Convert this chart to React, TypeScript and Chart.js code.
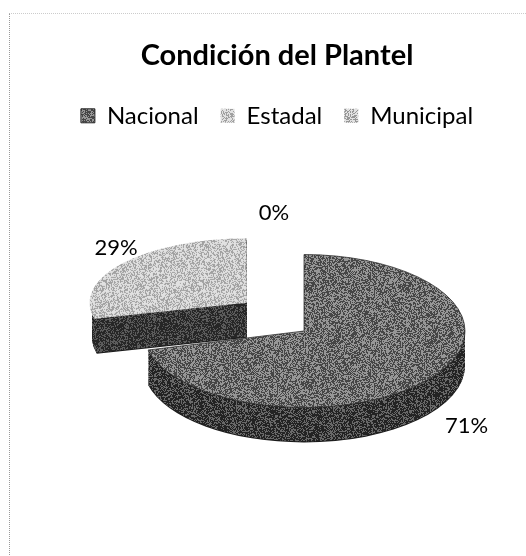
import React, { useEffect, useRef } from "react";
import { Chart, registerables } from "chart.js";

Chart.register(...registerables);

const TITLE = "Condición del Plantel";
const categories = ["Nacional", "Estadal", "Municipal"];
const values = [71, 29, 0];
const explode = [0, 300, 0];

// [dark speck, light speck, share of dark specks]
const topInk: [number, number, number][] = [
  [70, 150, 0.5],
  [160, 225, 0.42],
  [150, 225, 0.45],
];
const wallInk: [number, number, number][] = [
  [35, 105, 0.6],
  [38, 92, 0.6],
  [60, 150, 0.6],
];
const labelNudge = [
  [1, 0],
  [33, -2],
  [-30, -21],
];

const WIDTH = 526;
const HEIGHT = 556;
const CENTER_X = 304;
const CENTER_Y = 331;
const DEPTH = 35;
const RADIUS = 161;
const LABEL_FACTOR = 1.27;
const LABEL_SQUASH = 0.475;
// per-slice perspective: vertical squash, overall scale, vertical lift
const sliceSquash = [0.475, 0.41, 0.475];
const sliceScale = [1, 0.963, 1];
const sliceLift = [0, -10, 0];

function speckle(ctx: CanvasRenderingContext2D, ink: [number, number, number], seed: number) {
  const size = 97;
  const tile = document.createElement("canvas");
  tile.width = size;
  tile.height = size;
  const t = tile.getContext("2d")!;
  const img = t.createImageData(size, size);
  let s = seed;
  for (let i = 0; i < size * size; i++) {
    s = (s * 1664525 + 1013904223) >>> 0;
    const r = (s >>> 8) / 16777216;
    const v = r < ink[2] ? ink[0] : ink[1];
    img.data[i * 4] = v;
    img.data[i * 4 + 1] = v;
    img.data[i * 4 + 2] = v;
    img.data[i * 4 + 3] = 255;
  }
  t.putImageData(img, 0, 0);
  return ctx.createPattern(tile, "repeat")!;
}

export default function App() {
  const ref = useRef<HTMLCanvasElement>(null);
  useEffect(() => {
    const canvas = ref.current!;
    const c = canvas.getContext("2d")!;
    const tops = topInk.map((ink, i) => speckle(c, ink, 17 + i * 31));
    const walls = wallInk.map((ink, i) => speckle(c, ink, 211 + i * 47));

    const pie3d = {
      id: "pie3d",
      beforeDatasetsDraw(chart: any) {
        const ctx = chart.ctx as CanvasRenderingContext2D;
        const arcs = chart.getDatasetMeta(0).data as any[];
        const order = arcs.map((_, i) => i).sort((a, b) => (explode[b] || 0) - (explode[a] || 0));
        const place = (i: number, drop: number) => {
          ctx.translate(CENTER_X, CENTER_Y + sliceLift[i] + drop);
          ctx.scale(sliceScale[i], sliceScale[i] * sliceSquash[i]);
        };
        for (const i of order) {
          const a = arcs[i];
          if (a.endAngle - a.startAngle <= 0) continue;
          const mid = (a.startAngle + a.endAngle) / 2;
          const off = (a.options.offset || 0) / 4;
          for (let k = DEPTH; k >= 1; k--) {
            ctx.save();
            place(i, k);
            ctx.translate(Math.cos(mid) * off, Math.sin(mid) * off);
            ctx.beginPath();
            ctx.moveTo(0, 0);
            ctx.arc(0, 0, a.outerRadius, a.startAngle, a.endAngle);
            ctx.closePath();
            // keep the speckle fixed to the page so the wall does not streak
            walls[i].setTransform(ctx.getTransform().inverse());
            ctx.fillStyle = k === DEPTH ? "#1a1a1a" : walls[i];
            ctx.fill();
            ctx.restore();
          }
        }
        for (const i of order) {
          const a = arcs[i];
          if (a.endAngle - a.startAngle <= 0) continue;
          ctx.save();
          place(i, 0);
          ctx.translate(-a.x, -a.y);
          tops[i].setTransform(ctx.getTransform().inverse());
          a.draw(ctx);
          ctx.restore();
        }
        ctx.save();
        ctx.fillStyle = "#000";
        ctx.font = "22px Lato";
        ctx.textAlign = "center";
        ctx.textBaseline = "middle";
        arcs.forEach((a, i) => {
          const mid = (a.startAngle + a.endAngle) / 2;
          const off = (a.options.offset || 0) / 4;
          const cos = Math.cos(mid);
          const sin = Math.sin(mid);
          const r = a.outerRadius * LABEL_FACTOR + off;
          const x = CENTER_X + cos * r + labelNudge[i][0];
          const y = CENTER_Y + sin * r * LABEL_SQUASH + (sin > 0 ? DEPTH : 0) + labelNudge[i][1];
          ctx.fillText(`${values[i]}%`, x, y);
        });
        ctx.restore();
        return false;
      },
    };

    const chart = new Chart(canvas, {
      type: "pie",
      data: {
        labels: categories,
        datasets: [
          {
            data: values,
            backgroundColor: tops,
            borderColor: ["#2a2a2a", "rgba(0,0,0,0)", "rgba(0,0,0,0)"],
            borderWidth: 1,
            offset: explode,
            clip: false,
          } as any,
        ],
      },
      options: {
        responsive: false,
        animation: false,
        radius: RADIUS,
        layout: { padding: { left: 28, top: 36 } },
        plugins: {
          title: {
            display: true,
            text: TITLE,
            color: "#000",
            font: { family: "Lato", size: 29, weight: "bold" },
            padding: { top: 2, bottom: 9 },
          },
          legend: {
            position: "top",
            labels: {
              boxWidth: 14,
              boxHeight: 14,
              padding: 22,
              color: "#000",
              font: { family: "Lato", size: 24 },
            },
          },
          tooltip: { enabled: false },
        },
      } as any,
      plugins: [pie3d],
    });
    return () => chart.destroy();
  }, []);

  return (
    <div style={{ position: "absolute", left: 0, top: 0, width: WIDTH, height: HEIGHT, background: "#fff" }}>
      <canvas ref={ref} width={WIDTH} height={HEIGHT} style={{ display: "block" }} />
      <div
        style={{
          position: "absolute",
          left: 9,
          top: 13,
          right: 0,
          bottom: 1,
          borderLeft: "1px dotted #999",
          borderTop: "1px dotted #ccc",
          pointerEvents: "none",
        }}
      />
    </div>
  );
}
